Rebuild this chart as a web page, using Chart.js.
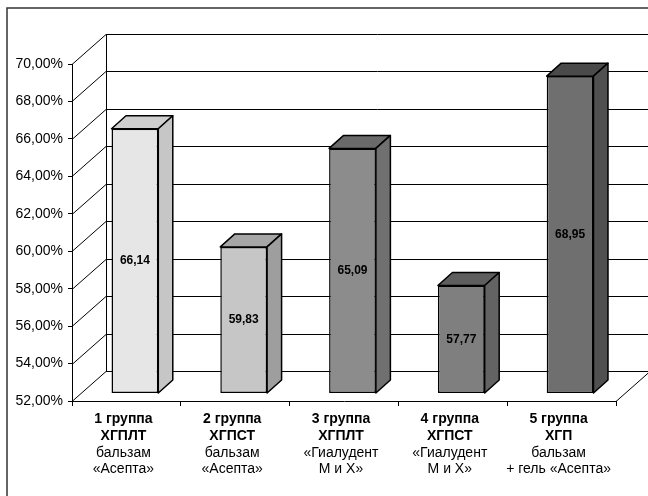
<!DOCTYPE html>
<html>
<head>
<meta charset="utf-8">
<script src="https://cdn.jsdelivr.net/npm/chart.js@4.4.1/dist/chart.umd.min.js"></script>
<style>
  html, body { margin: 0; padding: 0; background: #fff; }
</style>
</head>
<body>
<canvas id="chart" width="648" height="496"></canvas>
<script>
// data
const groupNames = ['1 группа', '2 группа', '3 группа', '4 группа', '5 группа'];
const groupCodes = ['ХГПЛТ', 'ХГПСТ', 'ХГПЛТ', 'ХГПСТ', 'ХГП'];
const treatLine1 = ['бальзам', 'бальзам', '«Гиалудент', '«Гиалудент', 'бальзам'];
const treatLine2 = ['«Асепта»', '«Асепта»', 'М и Х»', 'М и Х»', '+ гель «Асепта»'];
const values = [66.14, 59.83, 65.09, 57.77, 68.95];
const yMin = 52, yMax = 70, yStep = 2;

// shades of the boxes
const frontColors = ['#e6e6e6', '#c6c6c6', '#8c8c8c', '#7f7f7f', '#6f6f6f'];
const topColors   = ['#cfcfcf', '#a6a6a6', '#6a6a6a', '#5e5e5e', '#4a4a4a'];
const sideColors  = ['#c6c6c6', '#9e9e9e', '#707070', '#636363', '#505050'];

// 3d geometry
const WALL_DX = 34, WALL_DY = -30;   // depth of the floor / back wall
const BAR_DX = 8.5, BAR_DY = -7.5;   // where the bar front sits in depth
const BOX_DX = 14.5, BOX_DY = -13;   // depth of a bar

Chart.defaults.font.family = 'Arial, "Liberation Sans", sans-serif';
Chart.defaults.color = '#000';

const fmtPct = v => v.toFixed(2).replace('.', ',') + '%';
const fmtVal = v => v.toFixed(2).replace('.', ',');

const wall3d = {
  id: 'wall3d',
  beforeDatasetsDraw(chart) {
    const ctx = chart.ctx;
    const area = chart.chartArea;
    const ys = chart.scales.y;
    const W = chart.width;

    ctx.save();
    // outer frame (only left and top are in the picture)
    ctx.strokeStyle = '#333';
    ctx.lineWidth = 1.5;
    ctx.beginPath();
    ctx.moveTo(7, 496);
    ctx.lineTo(7, 8);
    ctx.lineTo(W, 8);
    ctx.stroke();

    ctx.strokeStyle = '#000';
    ctx.lineWidth = 1;
    for (let v = yMin; v <= yMax; v += yStep) {
      const yf = Math.round(ys.getPixelForValue(v)) + 0.5;
      ctx.beginPath();
      ctx.moveTo(area.left, yf);
      ctx.lineTo(area.left + WALL_DX, yf + WALL_DY);
      ctx.lineTo(W + 5, yf + WALL_DY);
      ctx.stroke();
    }
    // back wall left edge
    const yb = Math.round(ys.getPixelForValue(yMin)) + 0.5;
    const yt = Math.round(ys.getPixelForValue(yMax)) + 0.5;
    ctx.beginPath();
    ctx.moveTo(area.left + WALL_DX + 0.5, yb + WALL_DY);
    ctx.lineTo(area.left + WALL_DX + 0.5, yt + WALL_DY);
    ctx.stroke();
    // floor right edge
    ctx.beginPath();
    ctx.moveTo(area.right, yb);
    ctx.lineTo(area.right + WALL_DX, yb + WALL_DY);
    ctx.stroke();
    ctx.restore();

    // push the bars back into the floor
    ctx.save();
    ctx.translate(BAR_DX, BAR_DY);
  },
  afterDatasetsDraw(chart) {
    const ctx = chart.ctx;
    ctx.restore();

    const meta = chart.getDatasetMeta(0);
    ctx.save();
    ctx.lineWidth = 1.5;
    ctx.strokeStyle = '#000';
    ctx.lineJoin = 'round';
    meta.data.forEach((bar, i) => {
      const p = bar.getProps(['x', 'y', 'base', 'width'], true);
      const l = p.x - p.width / 2 + BAR_DX;
      const r = p.x + p.width / 2 + BAR_DX;
      const t = p.y + BAR_DY;
      const b = p.base + BAR_DY;

      // top face
      ctx.fillStyle = topColors[i];
      ctx.beginPath();
      ctx.moveTo(l, t);
      ctx.lineTo(l + BOX_DX, t + BOX_DY);
      ctx.lineTo(r + BOX_DX, t + BOX_DY);
      ctx.lineTo(r, t);
      ctx.closePath();
      ctx.fill();
      ctx.stroke();

      // side face
      ctx.fillStyle = sideColors[i];
      ctx.beginPath();
      ctx.moveTo(r, t);
      ctx.lineTo(r + BOX_DX, t + BOX_DY);
      ctx.lineTo(r + BOX_DX, b + BOX_DY);
      ctx.lineTo(r, b);
      ctx.closePath();
      ctx.fill();
      ctx.stroke();

      // value label in the middle of the front face
      ctx.fillStyle = '#000';
      ctx.font = 'bold 12px Arial, "Liberation Sans", sans-serif';
      ctx.textAlign = 'center';
      ctx.textBaseline = 'middle';
      ctx.fillText(fmtVal(values[i]), (l + r) / 2, (t + b) / 2);
    });
    ctx.restore();
  },
  afterDraw(chart) {
    const ctx = chart.ctx;
    const xs = chart.scales.x;
    const bottom = chart.chartArea.bottom;
    ctx.save();
    ctx.fillStyle = '#000';
    ctx.textAlign = 'center';
    ctx.textBaseline = 'middle';
    groupNames.forEach((name, i) => {
      const x = xs.getPixelForValue(i) - 3;
      ctx.font = 'bold 14px Arial, "Liberation Sans", sans-serif';
      ctx.fillText(name, x, bottom + 18);
      ctx.fillText(groupCodes[i], x, bottom + 35);
      ctx.font = '14px Arial, "Liberation Sans", sans-serif';
      ctx.fillText(treatLine1[i], x, bottom + 52);
      ctx.fillText(treatLine2[i], x, bottom + 68);
    });
    ctx.restore();
  }
};

new Chart(document.getElementById('chart'), {
  type: 'bar',
  data: {
    labels: groupNames,
    datasets: [{
      data: values,
      base: yMin,
      backgroundColor: frontColors,
      borderColor: '#000',
      borderWidth: 1.5,
      borderSkipped: false,
      barPercentage: 0.43,
      categoryPercentage: 1.0,
      clip: false
    }]
  },
  options: {
    responsive: false,
    animation: false,
    devicePixelRatio: 1,
    layout: { padding: { top: 64, right: 32, bottom: 0, left: 0 } },
    plugins: {
      legend: { display: false },
      tooltip: { enabled: false }
    },
    scales: {
      x: {
        afterFit: s => { s.height = 95; },
        ticks: { display: false },
        grid: { offset: true, drawOnChartArea: false, drawTicks: true, tickLength: 5, color: '#000' },
        border: { display: true, color: '#000', width: 1 }
      },
      y: {
        min: yMin,
        max: yMax,
        afterFit: s => { s.width = 72; },
        ticks: {
          stepSize: yStep,
          padding: 5,
          font: { size: 14 },
          color: '#000',
          callback: v => fmtPct(v)
        },
        grid: { drawOnChartArea: false, drawTicks: true, tickLength: 4, color: '#000' },
        border: { display: true, color: '#000', width: 1 }
      }
    }
  },
  plugins: [wall3d]
});
</script>
</body>
</html>
